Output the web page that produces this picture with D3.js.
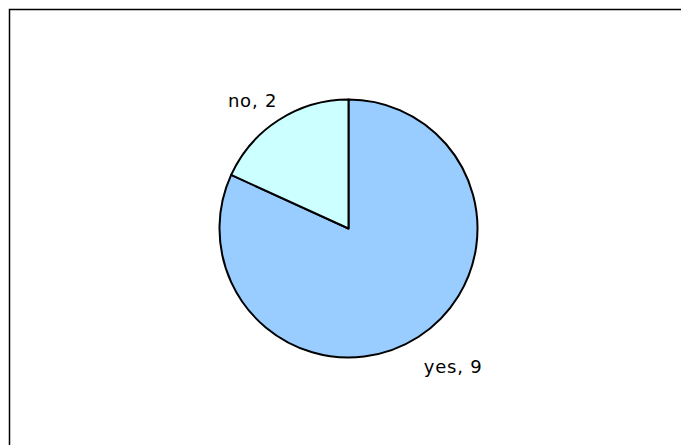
<!DOCTYPE html>
<html><head><meta charset="utf-8">
<script src="https://cdn.jsdelivr.net/npm/d3@7"></script>
<style>body{margin:0;background:#fff}svg{display:block}</style>
</head><body>
<svg id="c" width="681" height="445"></svg>
<script>
const categories = ["yes", "no"];
const values = [9, 2];
const colors = ["#99CCFF", "#CCFFFF"];

const svg = d3.select("#c");
svg.append("rect").attr("x", 9.5).attr("y", 9.5).attr("width", 700).attr("height", 460)
  .attr("fill", "#fff").attr("stroke", "#000").attr("stroke-width", 1.5);

const data = categories.map((c, i) => ({cat: c, val: values[i], color: colors[i]}));
const pie = d3.pie().value(d => d.val).sort(null);
const arcs = pie(data);
const r = 129;
const g = svg.append("g").attr("transform", "translate(348.5,228.5)");
const arc = d3.arc().innerRadius(0).outerRadius(r);
g.selectAll("path").data(arcs).join("path")
  .attr("d", arc).attr("fill", d => d.data.color)
  .attr("stroke", "#000").attr("stroke-width", 2).attr("stroke-linejoin", "round");

const labelArc = d3.arc().innerRadius(r + 14).outerRadius(r + 14);
g.selectAll("text").data(arcs).join("text")
  .each(function(d) {
    const [x, y] = labelArc.centroid(d);
    const right = x >= 0, bottom = y >= 0;
    d3.select(this)
      .attr("x", right ? x - 2 : x + 6)
      .attr("y", bottom ? y + 24 : y - 1)
      .attr("text-anchor", right ? "start" : "end");
  })
  .attr("font-family", "'DejaVu Sans', sans-serif").attr("font-size", 18)
  .attr("letter-spacing", 0.8)
  .text(d => `${d.data.cat}, ${d.data.val}`);
</script>
</body></html>
